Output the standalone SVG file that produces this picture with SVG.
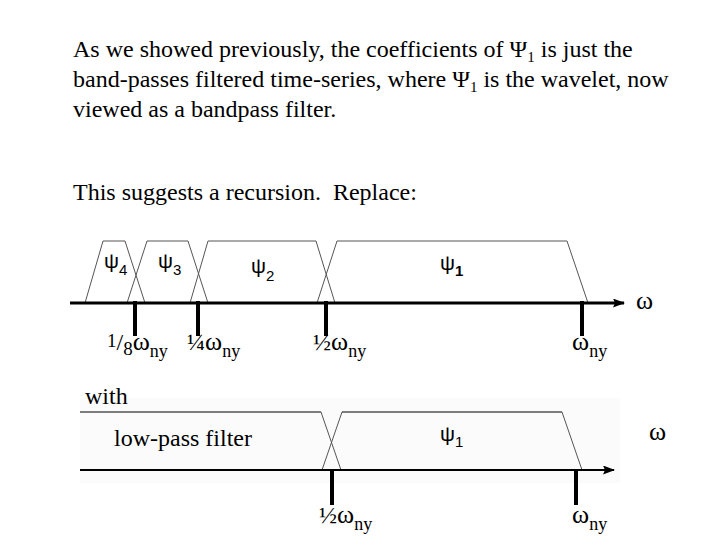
<svg xmlns="http://www.w3.org/2000/svg" width="720" height="540" viewBox="0 0 720 540">
<defs>
<style>
.t{font-family:"Liberation Serif","Times New Roman",serif;font-size:24px;fill:#000}
.s{font-family:"Liberation Sans",Arial,sans-serif;fill:#000}
.w{font-size:26px}
.ny{font-size:18px}
.thin{stroke:#000;stroke-width:1.2;fill:none}
.gray{stroke:#555;stroke-width:1;fill:none}
.axis{stroke:#000;stroke-width:3;fill:none}
.axis2{stroke:#000;stroke-width:2;fill:none}
.tick{stroke:#000;stroke-width:4}
</style>
<marker id="arr" markerWidth="12" markerHeight="9" refX="11" refY="4.5" orient="auto" markerUnits="userSpaceOnUse">
<path d="M0,0 L12,4.5 L0,9 L2,4.5 Z" fill="#000"/>
</marker>
</defs>
<rect width="720" height="540" fill="#fff"/>

<g id="intro">
<text class="t" x="73" y="57">As we showed previously, the coefficients of Ψ<tspan font-size="15" dy="5">1</tspan><tspan dy="-5"> is just the</tspan></text>
<text class="t" x="73" y="87">band-passes filtered time-series, where Ψ<tspan font-size="15" dy="5">1</tspan><tspan dy="-5"> is the wavelet, now</tspan></text>
<text class="t" x="73" y="117">viewed as a bandpass filter.</text>
<text class="t" x="73" y="200" xml:space="preserve">This suggests a recursion.  Replace:</text>
</g>

<g id="top-diagram">
<g id="psi4-band">
<polyline class="gray" points="85,303 103,241 125,241 145,303"/>
<text class="s" x="104" y="268" font-size="21">ψ<tspan font-size="15" dy="7">4</tspan></text>
</g>
<g id="psi3-band">
<polyline class="gray" points="127,303 147,241 188,241 208,303"/>
<text class="s" x="158" y="268" font-size="21">ψ<tspan font-size="15" dy="7">3</tspan></text>
</g>
<g id="psi2-band">
<polyline class="gray" points="190,303 208,241 316,241 335,303"/>
<text class="s" x="251" y="273" font-size="21">ψ<tspan font-size="15" dy="8">2</tspan></text>
</g>
<g id="psi1-band">
<polyline class="gray" points="317,303 337,241 567,241 588,303"/>
<text class="s" x="440" y="270" font-size="21">ψ<tspan font-size="15" font-weight="bold" dy="6">1</tspan></text>
</g>
<g id="axis-top">
<line class="axis" x1="70" y1="303" x2="624" y2="303" marker-end="url(#arr)"/>
<text class="t w" x="636" y="309">ω</text>
</g>
<g id="ticks-top">
<line class="tick" x1="135" y1="301" x2="135" y2="336"/>
<line class="tick" x1="198" y1="301" x2="198" y2="336"/>
<line class="tick" x1="326" y1="301" x2="326" y2="336"/>
<line class="tick" x1="582" y1="301" x2="582" y2="336"/>
</g>
<g id="labels-top">
<text class="t" x="107" y="350"><tspan font-size="19" dy="-3">1</tspan><tspan dy="3">/</tspan><tspan font-size="19" dy="5">8</tspan><tspan class="w" dy="-5">ω</tspan><tspan class="ny" dy="7">ny</tspan></text>
<text class="t" x="187" y="350">¼<tspan class="w">ω</tspan><tspan class="ny" dy="7">ny</tspan></text>
<text class="t" x="313" y="350">½<tspan class="w">ω</tspan><tspan class="ny" dy="7">ny</tspan></text>
<text class="t" x="572" y="350"><tspan class="w">ω</tspan><tspan class="ny" dy="7">ny</tspan></text>
</g>
</g>

<g id="bottom-diagram">
<rect x="80" y="398" width="540" height="85" fill="#fbfbfb"/>
<g id="lowpass-band">
<polyline class="thin" points="80,412 321,412"/>
<line class="gray" x1="321" y1="412" x2="341" y2="470"/>
<text class="t" x="114" y="446">low-pass filter</text>
</g>
<g id="psi1-band-b">
<polyline class="gray" points="322,470 342,412"/>
<polyline class="thin" points="342,412 562,412"/>
<line class="gray" x1="562" y1="412" x2="582" y2="470"/>
<text class="s" x="440" y="441" font-size="21">ψ<tspan font-size="15" dy="6">1</tspan></text>
</g>
<g id="axis-bottom">
<line class="axis2" x1="80" y1="470" x2="614" y2="470" marker-end="url(#arr)"/>
<text class="t w" x="649" y="440">ω</text>
</g>
<g id="ticks-bottom">
<line class="tick" x1="332" y1="470" x2="332" y2="505"/>
<line class="tick" x1="576" y1="470" x2="576" y2="505"/>
</g>
<g id="labels-bottom">
<text class="t" x="319" y="523">½<tspan class="w">ω</tspan><tspan class="ny" dy="7">ny</tspan></text>
<text class="t" x="572" y="523"><tspan class="w">ω</tspan><tspan class="ny" dy="7">ny</tspan></text>
</g>
</g>

<text class="t" x="85" y="404">with</text>
</svg>
